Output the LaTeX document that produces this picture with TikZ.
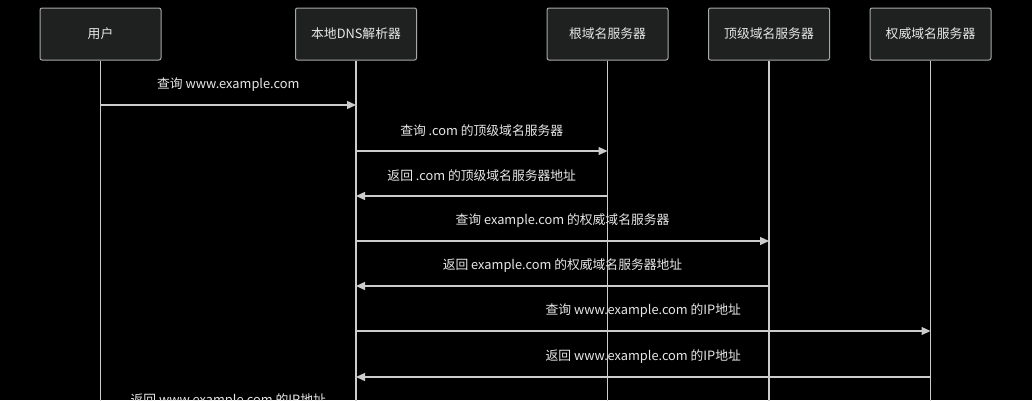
\documentclass[tikz,border=0pt]{standalone}
\usepackage{fontspec}
\setmainfont{Noto Sans CJK SC}
\usetikzlibrary{
    arrows.meta,    % For arrow tips
    positioning     % For relative positioning of nodes
}
\definecolor{boxfill}{HTML}{1F2020}
\definecolor{boxline}{HTML}{A8A8A8}
\definecolor{wire}{HTML}{CCCCCC}
\definecolor{txt}{HTML}{E8E8E8}
\tikzset{
    % Style for the participants at the top
    actor/.style={
        draw=boxline,
        line width=1pt,
        rectangle,
        rounded corners=2pt,
        fill=boxfill,
        text=txt,
        minimum width=121pt,
        minimum height=52pt,
        font=\fontsize{12.8}{14}\selectfont
    },
    % Style for the vertical lifelines
    lifeline/.style={
        draw=wire,
        line width=1.4pt
    },
    % Style for the messages
    msg/.style={
        -{Triangle[length=9pt,width=8pt]},
        draw=wire,
        line width=1.3pt
    },
    % Style for the message texts
    msgtext/.style={
        text=txt,
        font=\fontsize{12.8}{14}\selectfont,
        yshift=20pt
    }
}
\begin{document}
\begin{tikzpicture}[x=1pt, y=-1pt]

    % --- Canvas ---
    \fill[black] (0,0) rectangle (1032,400);
    \useasboundingbox (0,0) rectangle (1032,400);
    \clip (0,0) rectangle (1032,400);

    % --- Participants ---
    \node (user) [actor] at (100.5,34) {用户};
    \node (dns)  [actor] at (356,34)   {本地DNS解析器};
    \node (root) [actor] at (607.5,34) {根域名服务器};
    \node (tld)  [actor] at (769,34)   {顶级域名服务器};
    \node (auth) [actor] at (930.5,34) {权威域名服务器};

    % --- Lifelines ---
    \coordinate (bottom) at (0,440);
    \draw[lifeline] (user.south) -- (user |- bottom);
    \draw[lifeline] (dns.south)  -- (dns |- bottom);
    \draw[lifeline] (root.south) -- (root |- bottom);
    \draw[lifeline] (tld.south)  -- (tld |- bottom);
    \draw[lifeline] (auth.south) -- (auth |- bottom);

    % --- Message rows ---
    \coordinate (m1) at (0,105);
    \coordinate (m2) at (0,151);
    \coordinate (m3) at (0,196);
    \coordinate (m4) at (0,241);
    \coordinate (m5) at (0,286);
    \coordinate (m6) at (0,331);
    \coordinate (m7) at (0,377);
    \coordinate (m8) at (0,421);

    % --- Messages ---
    \draw[msg] (user |- m1) -- (dns |- m1)  node[midway, msgtext] {查询 www.example.com};
    \draw[msg] (dns |- m2)  -- (root |- m2) node[midway, msgtext] {查询 .com 的顶级域名服务器};
    \draw[msg] (root |- m3) -- (dns |- m3)  node[midway, msgtext] {返回 .com 的顶级域名服务器地址};
    \draw[msg] (dns |- m4)  -- (tld |- m4)  node[midway, msgtext] {查询 example.com 的权威域名服务器};
    \draw[msg] (tld |- m5)  -- (dns |- m5)  node[midway, msgtext] {返回 example.com 的权威域名服务器地址};
    \draw[msg] (dns |- m6)  -- (auth |- m6) node[midway, msgtext] {查询 www.example.com 的IP地址};
    \draw[msg] (auth |- m7) -- (dns |- m7)  node[midway, msgtext] {返回 www.example.com 的IP地址};
    \draw[msg] (dns |- m8)  -- (user |- m8) node[midway, msgtext] {返回 www.example.com 的IP地址};

\end{tikzpicture}
\end{document}
